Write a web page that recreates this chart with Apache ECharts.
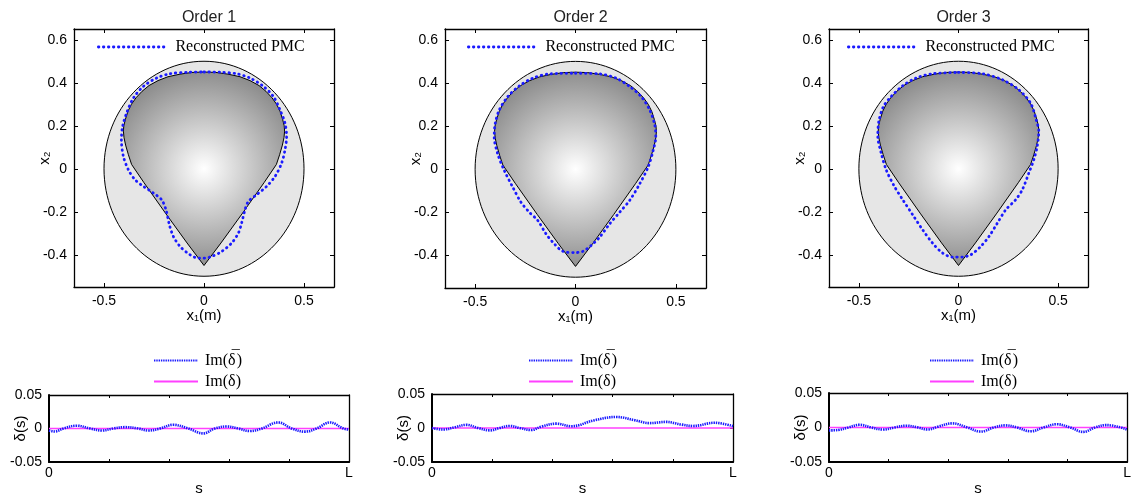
<!DOCTYPE html>
<html>
<head>
<meta charset="utf-8">
<script src="https://cdn.jsdelivr.net/npm/echarts@6/dist/echarts.min.js"></script>
<style>
  html, body { margin: 0; padding: 0; background: #fff; }
  #chart { width: 1134px; height: 497px; }
</style>
</head>
<body>
<div id="chart"></div>
<script>
// ---- data ----
const titles = ['Order 1', 'Order 2', 'Order 3'];

// outer domain: circle centre x, centre y, radius
const domain = [0, 0, 0.5];

// true PMC boundary (x1, x2), clockwise from the top
const shapeTrue = [
  [0, 0.45], [0.06, 0.448], [0.12, 0.44], [0.18, 0.428], [0.23, 0.41], [0.275, 0.387],
  [0.31, 0.36], [0.34, 0.33], [0.363, 0.3], [0.38, 0.268], [0.393, 0.23], [0.401, 0.2],
  [0.403, 0.175], [0.4, 0.145], [0.392, 0.11], [0.378, 0.065], [0.362, 0.02],
  [0.3, -0.065], [0.19, -0.21], [0.085, -0.345], [0, -0.45],
  [-0.085, -0.345], [-0.19, -0.21], [-0.3, -0.065], [-0.362, 0.02], [-0.378, 0.065],
  [-0.392, 0.11], [-0.4, 0.145], [-0.403, 0.175], [-0.401, 0.2], [-0.393, 0.23],
  [-0.38, 0.268], [-0.363, 0.3], [-0.34, 0.33], [-0.31, 0.36], [-0.275, 0.387],
  [-0.23, 0.41], [-0.18, 0.428], [-0.12, 0.44], [-0.06, 0.448]
];

// reconstructed PMC, one per order
const recon1 = [
  [0, 0.45], [0.08, 0.449], [0.163, 0.442], [0.23, 0.422], [0.297, 0.383], [0.347, 0.336],
  [0.38, 0.274], [0.405, 0.212], [0.413, 0.15], [0.405, 0.088], [0.388, 0.026],
  [0.355, -0.036], [0.313, -0.082], [0.263, -0.121], [0.222, -0.152], [0.205, -0.191],
  [0.188, -0.253], [0.172, -0.299], [0.138, -0.346], [0.088, -0.385], [0.038, -0.408],
  [0, -0.416], [-0.028, -0.416], [-0.07, -0.4], [-0.12, -0.361], [-0.153, -0.315],
  [-0.173, -0.261], [-0.19, -0.191], [-0.212, -0.144], [-0.253, -0.113], [-0.303, -0.082],
  [-0.345, -0.051], [-0.378, -0.005], [-0.403, 0.057], [-0.413, 0.135], [-0.407, 0.197],
  [-0.387, 0.259], [-0.353, 0.329], [-0.303, 0.383], [-0.237, 0.422], [-0.17, 0.442],
  [-0.08, 0.449], [0, 0.45]
];
const recon2 = [
  [0, 0.445], [0.12, 0.442], [0.203, 0.422], [0.27, 0.383], [0.328, 0.336], [0.37, 0.274],
  [0.395, 0.205], [0.4, 0.15], [0.387, 0.088], [0.362, 0.011], [0.32, -0.067],
  [0.27, -0.144], [0.22, -0.199], [0.17, -0.253], [0.12, -0.315], [0.078, -0.353],
  [0.037, -0.38], [0, -0.386], [-0.063, -0.38], [-0.105, -0.346], [-0.147, -0.299],
  [-0.188, -0.237], [-0.23, -0.199], [-0.272, -0.152], [-0.313, -0.082], [-0.355, -0.005],
  [-0.388, 0.073], [-0.405, 0.15], [-0.4, 0.212], [-0.38, 0.274], [-0.338, 0.336],
  [-0.28, 0.386], [-0.213, 0.422], [-0.13, 0.442], [0, 0.445]
];
const recon3 = [
  [0, 0.448], [0.12, 0.442], [0.22, 0.414], [0.303, 0.367], [0.362, 0.305], [0.39, 0.228],
  [0.403, 0.174], [0.395, 0.104], [0.378, 0.042], [0.353, -0.02], [0.32, -0.098],
  [0.287, -0.144], [0.237, -0.191], [0.195, -0.253], [0.153, -0.315], [0.112, -0.361],
  [0.062, -0.4], [0.02, -0.411], [-0.03, -0.411], [-0.08, -0.392], [-0.13, -0.346],
  [-0.18, -0.284], [-0.23, -0.214], [-0.28, -0.144], [-0.322, -0.082], [-0.363, -0.005],
  [-0.388, 0.073], [-0.405, 0.15], [-0.4, 0.22], [-0.377, 0.289], [-0.338, 0.336],
  [-0.28, 0.386], [-0.213, 0.422], [-0.13, 0.442], [0, 0.448]
];

// Im(delta bar) along the boundary, s normalised to [0, L=1]
const delta1 = [
  [0, -0.003], [0.02, -0.0044], [0.048, 0], [0.092, 0.0042], [0.137, 0], [0.176, -0.003],
  [0.214, 0], [0.253, 0.002], [0.298, 0], [0.331, -0.003], [0.37, 0], [0.414, 0.0055],
  [0.464, 0], [0.514, -0.0073], [0.553, 0], [0.592, 0.003], [0.631, 0], [0.67, -0.0038],
  [0.709, 0], [0.764, 0.009], [0.809, 0], [0.853, -0.0047], [0.892, 0], [0.937, 0.009],
  [0.981, 0], [1, -0.0017]
];
const delta2 = [
  [0, 0], [0.037, -0.0022], [0.075, 0.001], [0.114, 0.0046], [0.153, 0], [0.192, -0.0035],
  [0.225, 0], [0.258, 0.003], [0.291, 0], [0.33, -0.003], [0.363, 0.002], [0.413, 0.0064],
  [0.463, 0.0026], [0.54, 0.0115], [0.612, 0.0162], [0.673, 0.0115], [0.723, 0.0072],
  [0.778, 0.009], [0.828, 0.0051], [0.867, 0.003], [0.939, 0.0077], [1, 0.0026]
];
const delta3 = [
  [0, -0.0042], [0.031, -0.0036], [0.064, 0], [0.103, 0.0039], [0.142, 0], [0.181, -0.0029],
  [0.22, 0], [0.259, 0.0026], [0.298, 0], [0.331, -0.0029], [0.364, 0.001], [0.414, 0.006],
  [0.464, 0], [0.509, -0.0059], [0.553, 0], [0.592, 0.0031], [0.631, 0], [0.676, -0.0055],
  [0.72, 0], [0.764, 0.0047], [0.809, 0], [0.853, -0.0064], [0.892, 0], [0.931, 0.0035],
  [1, -0.0029]
];
// Im(delta) of the true shape
const sEnds = [0, 1];
const zeroImag = [0, 0];

const xTicksTop = [-0.5, 0, 0.5];
const yTicksTop = [-0.4, -0.2, 0, 0.2, 0.4, 0.6];
const sTicks = [0, 0.2, 0.4, 0.6, 0.8, 1];
const sLabels = { 0: '0', 1: 'L' };

const recons = [recon1, recon2, recon3];
const deltas = [delta1, delta2, delta3];

// ---- layout ----
const topGrids = [
  { left: 74, top: 29, width: 260, height: 258 },
  { left: 445, top: 29, width: 261, height: 259 },
  { left: 829, top: 29, width: 259, height: 258 }
];
const botGrids = [
  { left: 49, top: 395, width: 300, height: 78 },
  { left: 432, top: 394, width: 301, height: 78 },
  { left: 829, top: 393, width: 300, height: 78 }
];
const topLegendLeft = [92, 462, 842];
const botLegendLeft = [148, 523, 924];

const sans = 'Liberation Sans';
const serif = 'Liberation Serif';
const blue = '#1a1aff';
const magenta = '#ff40ff';

var chart = echarts.init(document.getElementById('chart'));

var grid = [], xAxis = [], yAxis = [], series = [], legend = [], title = [];

function frame(extra) {
  return Object.assign({
    type: 'value',
    splitLine: { show: false },
    nameMoveOverlap: false,
    axisLine: { show: true, onZero: false, lineStyle: { color: '#000', width: 1.3 } },
    axisTick: { inside: true, length: 4, lineStyle: { color: '#000' } },
    axisLabel: { color: '#000', fontSize: 14, fontFamily: sans, margin: 7 },
    nameTextStyle: { color: '#000', fontSize: 15, fontFamily: sans }
  }, extra);
}

// legend text: Im(delta) with a bar over delta for the reconstructed one
const legendRich = {
  t: { fontFamily: serif, fontSize: 16, color: '#000' },
  bar: { fontFamily: serif, fontSize: 16, color: '#000', width: 0, align: 'right', padding: [0, 1, 5, 0] }
};
function legendText(name) {
  if (name === 'Im(δ̄)') return '{t|Im(δ}{bar|¯}{t|)}';
  return '{t|' + name + '}';
}

for (let i = 0; i < 3; i++) {
  // ---- upper panel: shapes ----
  grid.push(topGrids[i]);
  let g = grid.length - 1;
  let xi = xAxis.length, yi = yAxis.length;
  xAxis.push(frame({
    gridIndex: g, min: -0.65, max: 0.65, position: 'bottom',
    axisTick: { inside: true, length: 4, customValues: xTicksTop, lineStyle: { color: '#000' } },
    axisLabel: { color: '#000', fontSize: 14, fontFamily: sans, margin: 7, customValues: xTicksTop },
    name: 'x₁(m)', nameLocation: 'middle', nameGap: 21
  }));
  xAxis.push(frame({
    gridIndex: g, min: -0.65, max: 0.65, position: 'top',
    axisTick: { inside: true, length: 4, customValues: xTicksTop, lineStyle: { color: '#000' } },
    axisLabel: { show: false }
  }));
  yAxis.push(frame({
    gridIndex: g, min: -0.55, max: 0.65, position: 'left',
    axisTick: { inside: true, length: 4, customValues: yTicksTop, lineStyle: { color: '#000' } },
    axisLabel: { color: '#000', fontSize: 14, fontFamily: sans, margin: 7, customValues: yTicksTop },
    name: 'x₂', nameLocation: 'middle', nameGap: 22
  }));
  yAxis.push(frame({
    gridIndex: g, min: -0.55, max: 0.65, position: 'right',
    axisTick: { inside: true, length: 4, customValues: yTicksTop, lineStyle: { color: '#000' } },
    axisLabel: { show: false }
  }));

  series.push({
    type: 'custom', xAxisIndex: xi, yAxisIndex: yi, silent: true, z: 1,
    data: [domain],
    renderItem: function (params, api) {
      var c = api.coord([api.value(0), api.value(1)]);
      var sz = api.size([api.value(2), api.value(2)]);
      return {
        type: 'ellipse',
        shape: { cx: c[0], cy: c[1], rx: sz[0], ry: sz[1] },
        style: { fill: '#e6e6e6', stroke: '#000', lineWidth: 1 }
      };
    }
  });
  series.push({
    type: 'custom', xAxisIndex: xi, yAxisIndex: yi, silent: true, z: 2,
    data: [[0, 0]],
    renderItem: function (params, api) {
      var pts = shapeTrue.map(function (p) { return api.coord(p); });
      return {
        type: 'polygon',
        shape: { points: pts },
        style: {
          fill: {
            type: 'radial', x: 0.5, y: 0.5, r: 0.6,
            colorStops: [{ offset: 0, color: '#ffffff' }, { offset: 1, color: '#8e8e8e' }]
          },
          stroke: '#000', lineWidth: 1
        }
      };
    }
  });
  series.push({
    type: 'line', name: 'Reconstructed PMC', xAxisIndex: xi, yAxisIndex: yi, z: 5,
    data: recons[i], symbol: 'none', smooth: 0.3, silent: true,
    itemStyle: { color: blue },
    lineStyle: { color: blue, width: 2.8, type: [0.5, 4.5], cap: 'round' }
  });

  legend.push({
    left: topLegendLeft[i], top: 34, data: ['Reconstructed PMC'], selectedMode: false,
    itemWidth: 66, itemHeight: 14, itemGap: 0,
    itemStyle: { opacity: 0 },
    lineStyle: { color: blue, width: 2.8, type: [0.5, 4.5], cap: 'round' },
    textStyle: { fontFamily: serif, fontSize: 16, color: '#000', padding: [0, 0, 0, 6] }
  });
  title.push({
    text: titles[i], left: topGrids[i].left + topGrids[i].width / 2, top: 5, textAlign: 'center',
    textStyle: { fontFamily: sans, fontSize: 16, fontWeight: 'normal', color: '#222' }
  });
}

for (let i = 0; i < 3; i++) {
  // ---- lower panel: Im(delta) ----
  grid.push(botGrids[i]);
  let g = grid.length - 1;
  let xi = xAxis.length, yi = yAxis.length;
  xAxis.push(frame({
    gridIndex: g, min: 0, max: 1, position: 'bottom',
    axisLine: { show: true, onZero: false, lineStyle: { color: '#000', width: 2 } },
    axisTick: { inside: true, length: 3, customValues: sTicks, lineStyle: { color: '#000' } },
    axisLabel: {
      color: '#000', fontSize: 14, fontFamily: sans, margin: 4, customValues: sEnds,
      formatter: function (v) { return sLabels[v] || ''; }
    },
    name: 's', nameLocation: 'middle', nameGap: 19
  }));
  xAxis.push(frame({
    gridIndex: g, min: 0, max: 1, position: 'top',
    axisLine: { show: true, onZero: false, lineStyle: { color: '#000', width: 1.3 } },
    axisTick: { inside: true, length: 3, customValues: sTicks, lineStyle: { color: '#000' } },
    axisLabel: { show: false }
  }));
  yAxis.push(frame({
    gridIndex: g, min: -0.05, max: 0.05, interval: 0.05, position: 'left',
    axisLine: { show: true, onZero: false, lineStyle: { color: '#000', width: 2 } },
    axisTick: { inside: true, length: 3, lineStyle: { color: '#000' } },
    name: 'δ(s)', nameLocation: 'middle', nameGap: 21
  }));
  yAxis.push(frame({
    gridIndex: g, min: -0.05, max: 0.05, interval: 0.05, position: 'right',
    axisLine: { show: true, onZero: false, lineStyle: { color: '#000', width: 1.3 } },
    axisTick: { inside: true, length: 3, lineStyle: { color: '#000' } },
    axisLabel: { show: false }
  }));

  series.push({
    type: 'line', name: 'Im(δ)', xAxisIndex: xi, yAxisIndex: yi, z: 3, silent: true,
    data: sEnds.map(function (s, k) { return [s, zeroImag[k]]; }),
    symbol: 'none', itemStyle: { color: magenta },
    lineStyle: { color: magenta, width: 1.6 }
  });
  series.push({
    type: 'line', name: 'Im(δ̄)', xAxisIndex: xi, yAxisIndex: yi, z: 4, silent: true,
    data: deltas[i], symbol: 'none', smooth: 0.4, itemStyle: { color: blue },
    lineStyle: { color: blue, width: 2.6, type: [1.4, 0.9] }
  });

  legend.push({
    left: botLegendLeft[i], top: 345, orient: 'vertical', selectedMode: false,
    data: ['Im(δ̄)', 'Im(δ)'], itemWidth: 44, itemHeight: 14, itemGap: 5,
    itemStyle: { opacity: 0 },
    formatter: legendText,
    textStyle: { fontFamily: serif, fontSize: 16, color: '#000', padding: [0, 0, 0, 2], rich: legendRich }
  });
}

var option = {
  animation: false,
  backgroundColor: '#fff',
  title: title,
  legend: legend,
  grid: grid,
  xAxis: xAxis,
  yAxis: yAxis,
  series: series
};
chart.setOption(option);
</script>
</body>
</html>
